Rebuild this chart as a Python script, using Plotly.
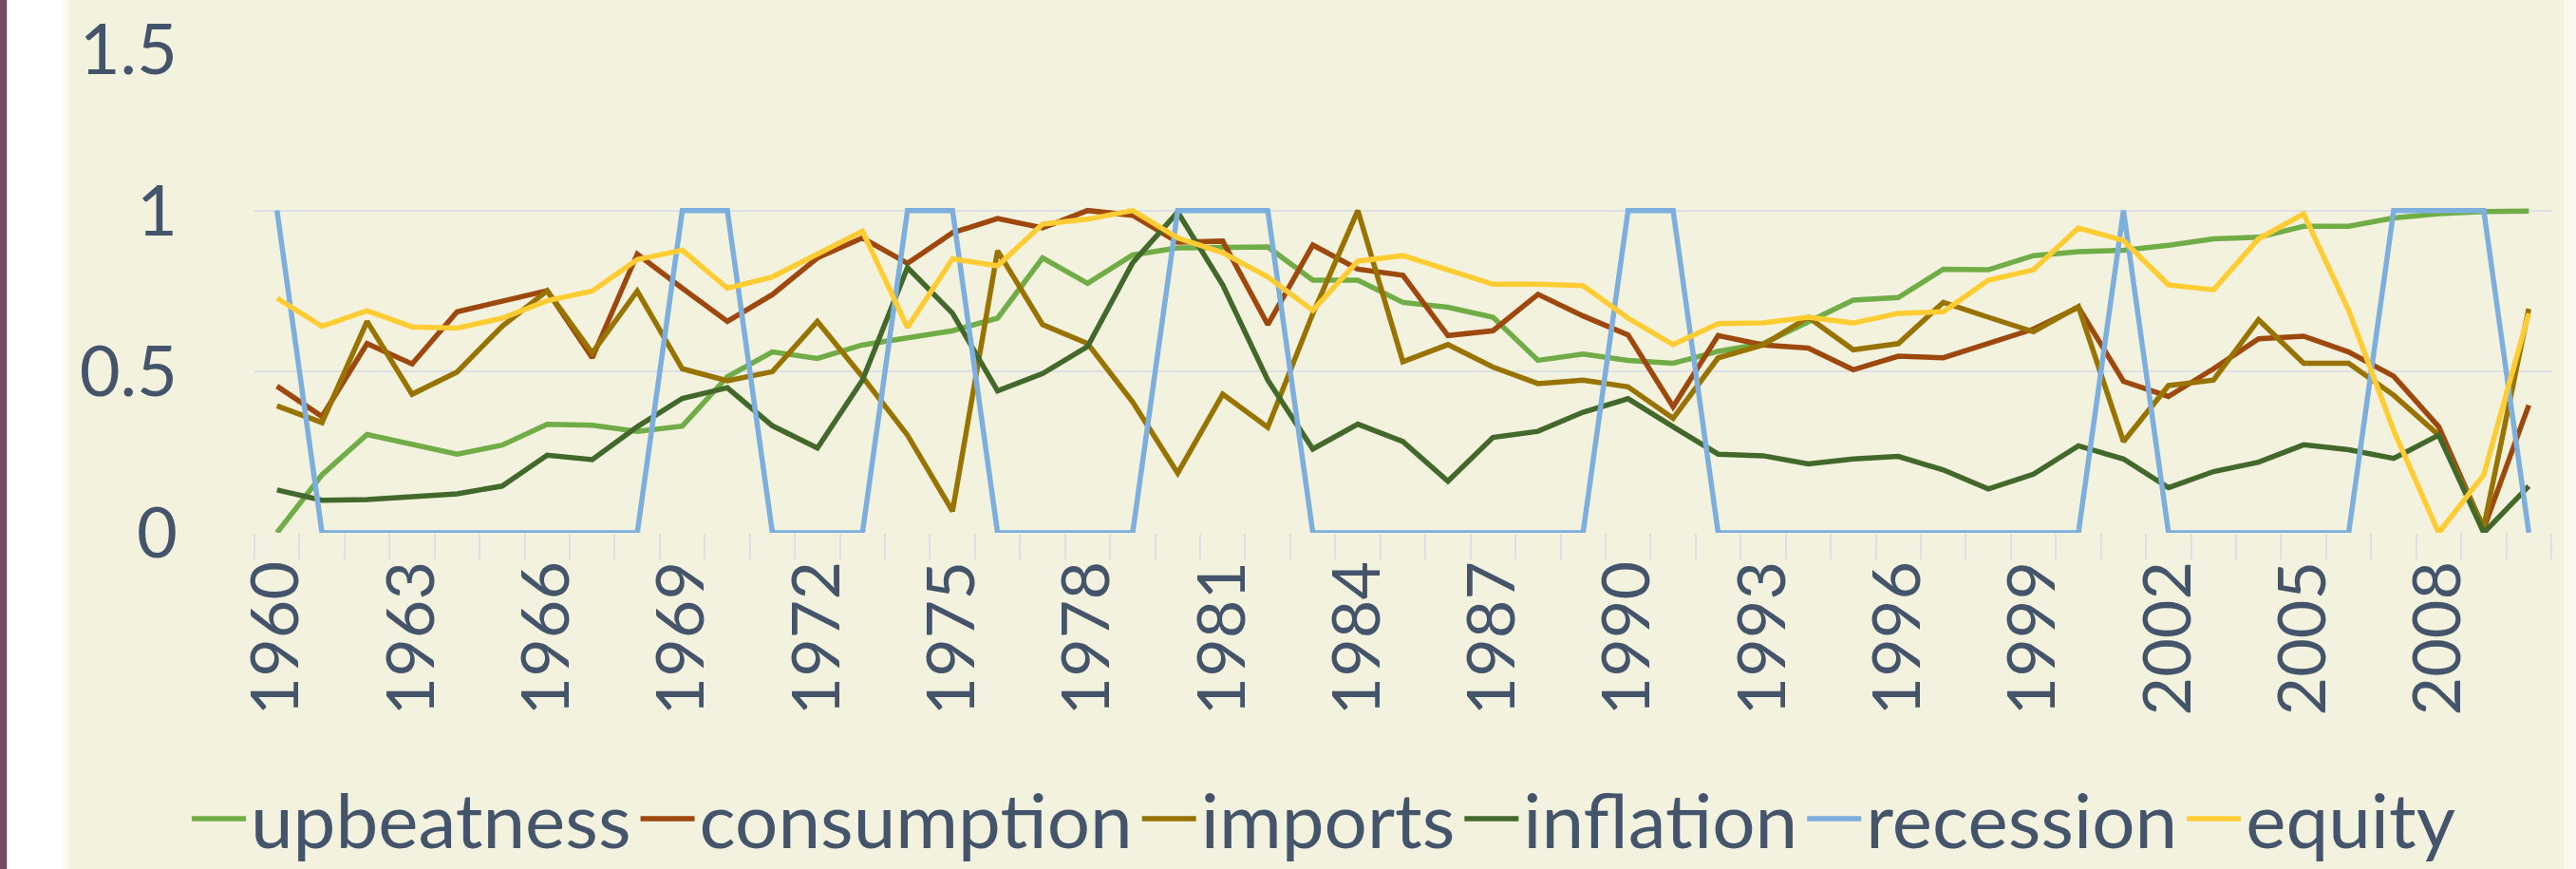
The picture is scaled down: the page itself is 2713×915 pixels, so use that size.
import plotly.graph_objects as go

years = list(range(1960, 2011))

upbeatness = [0.0, 0.18, 0.305, 0.273, 0.244, 0.272, 0.337, 0.334, 0.315, 0.331,
              0.484, 0.561, 0.541, 0.583, 0.607, 0.627, 0.666, 0.853, 0.774, 0.862,
              0.884, 0.887, 0.887, 0.784, 0.784, 0.715, 0.70, 0.669, 0.535, 0.555,
              0.535, 0.526, 0.563, 0.587, 0.655, 0.722, 0.73, 0.818, 0.816, 0.86,
              0.872, 0.877, 0.892, 0.912, 0.917, 0.951, 0.951, 0.977, 0.99, 0.997, 0.998]
consumption = [0.455, 0.361, 0.587, 0.524, 0.686, 0.718, 0.751, 0.543, 0.865, 0.759,
               0.656, 0.739, 0.853, 0.915, 0.836, 0.931, 0.975, 0.946, 1.0, 0.985,
               0.902, 0.905, 0.646, 0.893, 0.818, 0.799, 0.612, 0.627, 0.74, 0.673,
               0.614, 0.391, 0.612, 0.583, 0.573, 0.506, 0.548, 0.543, 0.587, 0.632,
               0.70, 0.47, 0.423, 0.509, 0.602, 0.61, 0.561, 0.486, 0.329, 0.013, 0.396]
imports = [0.394, 0.342, 0.656, 0.43, 0.499, 0.641, 0.751, 0.558, 0.75, 0.509,
           0.472, 0.5, 0.656, 0.484, 0.303, 0.067, 0.875, 0.646, 0.587, 0.406,
           0.185, 0.43, 0.327, 0.68, 1.0, 0.531, 0.584, 0.514, 0.463, 0.474,
           0.453, 0.355, 0.543, 0.583, 0.669, 0.568, 0.587, 0.715, 0.669, 0.624,
           0.702, 0.283, 0.457, 0.474, 0.661, 0.526, 0.526, 0.427, 0.303, 0.018, 0.695]
inflation = [0.133, 0.101, 0.103, 0.111, 0.121, 0.145, 0.241, 0.227, 0.329, 0.417,
             0.45, 0.332, 0.263, 0.474, 0.823, 0.681, 0.44, 0.494, 0.578, 0.838,
             0.995, 0.769, 0.474, 0.26, 0.337, 0.283, 0.16, 0.296, 0.315, 0.374,
             0.416, 0.329, 0.244, 0.239, 0.214, 0.229, 0.237, 0.195, 0.136, 0.182,
             0.27, 0.229, 0.14, 0.19, 0.219, 0.273, 0.258, 0.231, 0.303, 0.0, 0.145]
recession = [1, 0, 0, 0, 0, 0, 0, 0, 0, 1,
             1, 0, 0, 0, 1, 1, 0, 0, 0, 0,
             1, 1, 1, 0, 0, 0, 0, 0, 0, 0,
             1, 1, 0, 0, 0, 0, 0, 0, 0, 0,
             0, 1, 0, 0, 0, 0, 0, 1, 1, 1, 0]
equity = [0.728, 0.641, 0.689, 0.639, 0.635, 0.666, 0.72, 0.75, 0.848, 0.877,
          0.759, 0.794, 0.865, 0.936, 0.637, 0.85, 0.828, 0.958, 0.973, 1.0,
          0.915, 0.869, 0.794, 0.69, 0.843, 0.86, 0.816, 0.771, 0.771, 0.767,
          0.666, 0.584, 0.649, 0.651, 0.669, 0.651, 0.681, 0.686, 0.784, 0.816,
          0.946, 0.907, 0.769, 0.754, 0.912, 0.99, 0.69, 0.317, 0.0, 0.18, 0.681]

series_names = ["upbeatness", "consumption", "imports", "inflation", "recession", "equity"]
series_values = [upbeatness, consumption, imports, inflation, recession, equity]
series_colors = ["#70AD47", "#9E480E", "#997300", "#43682B", "#7CAFDD", "#FFCD33"]

x_tick_years = years[::3]
x_tick_labels = [str(y) for y in x_tick_years]
y_tick_vals = [0, 0.5, 1, 1.5]
y_tick_labels = ["0", "0.5", "1", "1.5"]

W, H = 2713, 915
ML, MR, MT, MB = 268, 26, 52, 354
PW = W - ML - MR
PH = H - MT - MB

BG = "#F3F2DE"
TXT = "#44546A"
GRID = "#DCE0E6"
FONT = "Lato"


def px_to_paper_x(px):
    return (px - ML) / PW


def px_to_paper_y(py):
    return (H - MB - py) / PH


fig = go.Figure()
for name, vals, col in zip(series_names, series_values, series_colors):
    fig.add_trace(go.Scatter(x=years, y=vals, name=name, mode="lines",
                             line=dict(color=col, width=5.5)))

shapes = [
    dict(type="rect", xref="paper", yref="paper", x0=px_to_paper_x(0), x1=px_to_paper_x(7.5),
         y0=px_to_paper_y(H), y1=px_to_paper_y(0), fillcolor="#744A5E", line_width=0, layer="below"),
    dict(type="rect", xref="paper", yref="paper", x0=px_to_paper_x(7.5), x1=px_to_paper_x(66),
         y0=px_to_paper_y(H), y1=px_to_paper_y(0), fillcolor="#FFFFFF", line_width=0, layer="below"),
    dict(type="rect", xref="paper", yref="paper", x0=px_to_paper_x(66), x1=px_to_paper_x(70),
         y0=px_to_paper_y(H), y1=px_to_paper_y(0), fillcolor="#FCFCF7", line_width=0, layer="below"),
    dict(type="rect", xref="paper", yref="paper", x0=px_to_paper_x(70), x1=px_to_paper_x(74),
         y0=px_to_paper_y(H), y1=px_to_paper_y(0), fillcolor="#F7F6EA", line_width=0, layer="below"),
    dict(type="rect", xref="paper", yref="paper", x0=px_to_paper_x(2701), x1=px_to_paper_x(W),
         y0=px_to_paper_y(H), y1=px_to_paper_y(0), fillcolor="#F8F8EE", line_width=0, layer="below"),
]

fig.update_layout(
    width=W, height=H,
    margin=dict(l=ML, r=MR, t=MT, b=MB, pad=0, autoexpand=False),
    paper_bgcolor=BG, plot_bgcolor=BG,
    font=dict(family=FONT, color=TXT, size=70),
    showlegend=True,
    legend=dict(orientation="h", x=px_to_paper_x(1394), xanchor="center",
                y=px_to_paper_y(862), yanchor="middle",
                font=dict(family=FONT, size=80, color=TXT),
                bgcolor="rgba(0,0,0,0)", itemwidth=57, tracegroupgap=0),
    shapes=shapes,
    hovermode=False,
)

fig.update_xaxes(
    range=[years[0] - 0.5, years[-1] + 0.5],
    tickmode="array", tickvals=x_tick_years, ticktext=x_tick_labels,
    tickangle=-90, ticks="", showgrid=False, zeroline=False, showline=False,
    tickfont=dict(family=FONT, size=70, color=TXT),
    ticklabelstandoff=15,
    minor=dict(tickmode="linear", tick0=years[0] - 0.5, dtick=1, ticks="outside",
               ticklen=27, tickwidth=2, tickcolor=GRID, showgrid=False),
)
fig.update_yaxes(
    range=[0, 1.5], tickmode="array", tickvals=y_tick_vals, ticktext=y_tick_labels,
    showgrid=True, gridcolor=GRID, gridwidth=2, zeroline=False, showline=False,
    ticks="", tickfont=dict(family=FONT, size=74, color=TXT),
    ticklabelstandoff=80,
)

fig.write_html("out.html", config={"displayModeBar": False, "staticPlot": True},
               post_script="document.body.style.margin='0';document.body.style.overflow='hidden';")
